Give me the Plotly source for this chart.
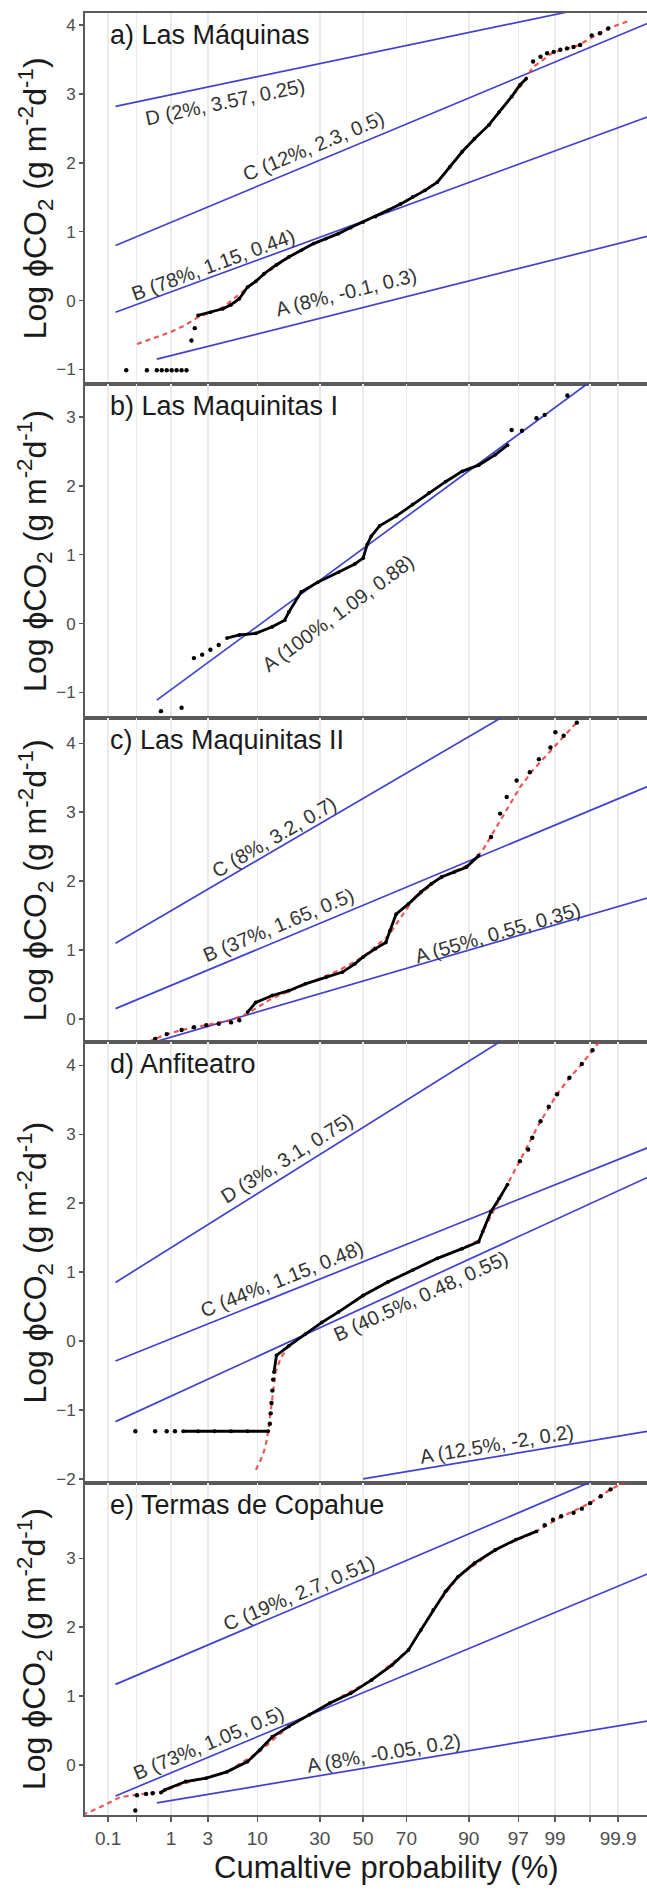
import math
from statistics import NormalDist
import plotly.graph_objects as go

_nd = NormalDist()


def probit(pct):
    """Normal-probability axis transform (percent -> normal score)."""
    return _nd.inv_cdf(pct / 100.0)


# ------------------------------------------------------------------ data
tick_pct = [0.1, 1, 3, 10, 30, 50, 70, 90, 97, 99, 99.9]
tick_text = ["0.1", "1", "3", "10", "30", "50", "70", "90", "97", "99", "99.9"]
minor_tick_pct = [0.3, 99.7]   # unlabelled ticks

x_title = "Cumaltive probability (%)"
y_title = "Log ϕCO<sub>2</sub> (g m<sup>-2</sup>d<sup>-1</sup>)"

# x values below are normal scores (probits)
# ---- a) Las Máquinas
a_title = "a) Las Máquinas"
a_pop_name = ["A", "B", "C", "D"]
a_pop_weight = ["8%", "78%", "12%", "2%"]
a_pop_mean = [-0.1, 1.15, 2.3, 3.57]
a_pop_sd = [0.3, 0.44, 0.5, 0.25]
a_pop_from = [-2.5, -3.0, -3.0, -3.0]
a_dense_x = [-2.0, -1.85, -1.7, -1.6, -1.5, -1.4, -1.3, -1.2, -1.05, -0.9, -0.75, -0.6, -0.45, -0.3,
             -0.15, 0.0, 0.15, 0.3, 0.45, 0.6, 0.75, 0.9, 1.05, 1.2, 1.35, 1.525, 1.65, 1.8, 1.9, 1.975]
a_dense_y = [-0.215, -0.17, -0.118, -0.06, 0.027, 0.197, 0.28, 0.39, 0.52, 0.633, 0.73, 0.827, 0.9, 0.972,
             1.06, 1.14, 1.22, 1.31, 1.40, 1.505, 1.60, 1.72, 1.94, 2.16, 2.35, 2.55, 2.74, 2.96, 3.13, 3.22]
a_tail_x = [-2.87, -2.62, -2.50, -2.44, -2.38, -2.32, -2.26, -2.20, -2.14, -2.08, -2.04,
            2.06, 2.15, 2.23, 2.31, 2.39, 2.47, 2.55, 2.63, 2.77, 2.87, 2.97]
a_tail_y = [-1.01, -1.01, -1.01, -1.01, -1.01, -1.01, -1.01, -1.01, -1.01, -0.58, -0.40,
            3.47, 3.54, 3.59, 3.61, 3.64, 3.66, 3.68, 3.71, 3.85, 3.88, 3.95]
a_fit_x = [-2.74, -2.54, -2.34, -2.16, -2.0, -1.7, -1.4, -1.2, -0.9, -0.6, -0.3, 0.0, 0.3, 0.6, 0.9,
           1.2, 1.5, 1.8, 1.95, 2.05, 2.3, 2.6, 2.97, 3.2]
a_fit_y = [-0.63, -0.55, -0.46, -0.36, -0.24, -0.10, 0.18, 0.38, 0.63, 0.83, 0.97, 1.14, 1.31, 1.5, 1.72,
           2.16, 2.52, 2.96, 3.17, 3.38, 3.60, 3.70, 3.95, 4.05]

# ---- b) Las Maquinitas I
b_title = "b) Las Maquinitas I"
b_pop_name = ["A"]
b_pop_weight = ["100%"]
b_pop_mean = [1.09]
b_pop_sd = [0.88]
b_pop_from = [-2.5]
b_dense_x = [-1.65, -1.5, -1.3, -1.1, -0.95, -0.9, -0.75, -0.55, -0.3, -0.1, 0.0, 0.05, 0.1, 0.2, 0.4,
             0.6, 0.8, 1.0, 1.2, 1.4, 1.6, 1.75]
b_dense_y = [-0.21, -0.165, -0.14, -0.045, 0.05, 0.17, 0.46, 0.60, 0.745, 0.866, 0.95, 1.15, 1.27, 1.42,
             1.56, 1.73, 1.90, 2.06, 2.21, 2.30, 2.45, 2.59]
b_tail_x = [-2.45, -2.2, -2.05, -1.95, -1.85, -1.75, 1.8, 1.925, 2.1, 2.2, 2.475]
b_tail_y = [-1.27, -1.22, -0.50, -0.45, -0.38, -0.31, 2.81, 2.80, 2.98, 3.03, 3.31]
b_fit_x = []
b_fit_y = []

# ---- c) Las Maquinitas II
c_title = "c) Las Maquinitas II"
c_pop_name = ["A", "B", "C"]
c_pop_weight = ["55%", "37%", "8%"]
c_pop_mean = [0.55, 1.65, 3.2]
c_pop_sd = [0.35, 0.5, 0.7]
c_pop_from = [-3.0, -3.0, -3.0]
c_dense_x = [-1.4, -1.3, -1.1, -0.9, -0.7, -0.45, -0.25, -0.1, 0.0, 0.15, 0.275, 0.325, 0.4, 0.55,
             0.7, 0.825, 0.95, 1.1, 1.25, 1.4]
c_dense_y = [0.10, 0.24, 0.34, 0.41, 0.51, 0.605, 0.68, 0.80, 0.90, 1.02, 1.11, 1.28, 1.52, 1.67,
             1.84, 1.96, 2.06, 2.13, 2.20, 2.37]
c_tail_x = [-2.52, -2.38, -2.2, -2.05, -1.9, -1.75, -1.6, -1.5, 1.55, 1.66, 1.74, 1.86, 2.02, 2.13,
            2.27, 2.33, 2.43, 2.59]
c_tail_y = [-0.29, -0.22, -0.16, -0.12, -0.09, -0.07, -0.05, -0.02, 2.64, 2.98, 3.22, 3.46, 3.58, 3.77,
            3.94, 4.16, 4.11, 4.30]
c_fit_x = [-2.6, -2.4, -2.2, -2.0, -1.8, -1.6, -1.4, -1.1, -0.7, -0.3, 0.0, 0.3, 0.6, 0.9, 1.1, 1.3,
           1.45, 1.6, 1.75, 1.9, 2.05, 2.2, 2.4, 2.6]
c_fit_y = [-0.33, -0.23, -0.16, -0.11, -0.07, -0.02, 0.08, 0.30, 0.50, 0.70, 0.90, 1.2, 1.72, 2.02,
           2.14, 2.25, 2.45, 2.75, 3.05, 3.36, 3.6, 3.8, 4.06, 4.32]

# ---- d) Anfiteatro
d_title = "d) Anfiteatro"
d_pop_name = ["A", "B", "C", "D"]
d_pop_weight = ["12.5%", "40.5%", "44%", "3%"]
d_pop_mean = [-2, 0.48, 1.15, 3.1]
d_pop_sd = [0.2, 0.55, 0.48, 0.75]
d_pop_from = [0.0, -3.0, -3.0, -3.0]
d_dense_x = [-2.18, -2.0, -1.8, -1.6, -1.4, -1.15, None,
             -1.08, -1.05, -0.9, -0.7, -0.5, -0.3, 0.0, 0.3, 0.6, 0.9, 1.2, 1.4, 1.45, 1.55, 1.65, 1.75]
d_dense_y = [-1.31, -1.31, -1.31, -1.31, -1.31, -1.31, None,
             -0.45, -0.21, -0.07, 0.10, 0.27, 0.42, 0.66, 0.857, 1.03, 1.20, 1.34, 1.44, 1.59, 1.88, 2.07, 2.27]
d_tail_x = [-2.76, -2.52, -2.38, -2.28, -1.13, -1.12, -1.11, -1.10, -1.09,
            1.9, 2.0, 2.05, 2.15, 2.25, 2.35, 2.5, 2.65, 2.78]
d_tail_y = [-1.31, -1.31, -1.31, -1.31, -1.2, -1.05, -0.9, -0.72, -0.56,
            2.61, 2.78, 2.95, 3.19, 3.40, 3.58, 3.82, 4.02, 4.22]
d_fit_x = [-1.3, -1.25, -1.2, -1.17, -1.15, -1.13, -1.11, -1.09, -1.06, -1.0, -0.9, -0.6, -0.3, 0.0,
           0.3, 0.6, 0.9, 1.2, 1.4, 1.55, 1.75, 1.9, 2.05, 2.15, 2.35, 2.5, 2.65, 2.8, 2.9]
d_fit_y = [-1.87, -1.75, -1.6, -1.45, -1.3, -1.1, -0.9, -0.7, -0.45, -0.25, -0.07, 0.18, 0.42, 0.66,
           0.86, 1.03, 1.2, 1.34, 1.46, 1.82, 2.27, 2.61, 2.95, 3.19, 3.58, 3.82, 4.02, 4.25, 4.4]

# ---- e) Termas de Copahue
e_title = "e) Termas de Copahue"
e_pop_name = ["A", "B", "C"]
e_pop_weight = ["8%", "73%", "19%"]
e_pop_mean = [-0.05, 1.05, 2.7]
e_pop_sd = [0.2, 0.5, 0.51]
e_pop_from = [-2.5, -3.0, -3.0]
e_dense_x = [-2.45, -2.4, -2.15, -1.9, -1.65, -1.4, -1.25, -1.1, -0.9, -0.65, -0.4, -0.15, 0.1, 0.35,
             0.55, 0.7, 0.85, 1.0, 1.15, 1.35, 1.6, 1.85, 2.1]
e_dense_y = [-0.40, -0.36, -0.24, -0.19, -0.10, 0.05, 0.22, 0.41, 0.56, 0.73, 0.90, 1.04, 1.23, 1.45,
             1.67, 1.96, 2.25, 2.52, 2.73, 2.93, 3.12, 3.27, 3.39]
e_tail_x = [-2.76, -2.74, -2.63, -2.55, 2.2, 2.3, 2.4, 2.55, 2.65, 2.75, 2.88, 3.0]
e_tail_y = [-0.66, -0.44, -0.42, -0.41, 3.48, 3.56, 3.61, 3.66, 3.72, 3.80, 3.90, 4.0]
e_fit_x = [-3.4, -3.31, -3.13, -2.95, -2.74, -2.6, -2.45, -2.15, -1.65, -1.25, -0.9, -0.4, 0.1, 0.55,
           0.85, 1.15, 1.6, 2.1, 2.4, 2.75, 3.0, 3.2]
e_fit_y = [-0.72, -0.68, -0.58, -0.47, -0.43, -0.41, -0.39, -0.26, -0.10, 0.2, 0.56, 0.9, 1.23, 1.67,
           2.25, 2.73, 3.12, 3.39, 3.6, 3.8, 4.0, 4.12]

panels = [
    dict(title=a_title, name=a_pop_name, w=a_pop_weight, m=a_pop_mean, s=a_pop_sd, x0=a_pop_from,
         dx=a_dense_x, dy=a_dense_y, tx=a_tail_x, ty=a_tail_y, fx=a_fit_x, fy=a_fit_y),
    dict(title=b_title, name=b_pop_name, w=b_pop_weight, m=b_pop_mean, s=b_pop_sd, x0=b_pop_from,
         dx=b_dense_x, dy=b_dense_y, tx=b_tail_x, ty=b_tail_y, fx=b_fit_x, fy=b_fit_y),
    dict(title=c_title, name=c_pop_name, w=c_pop_weight, m=c_pop_mean, s=c_pop_sd, x0=c_pop_from,
         dx=c_dense_x, dy=c_dense_y, tx=c_tail_x, ty=c_tail_y, fx=c_fit_x, fy=c_fit_y),
    dict(title=d_title, name=d_pop_name, w=d_pop_weight, m=d_pop_mean, s=d_pop_sd, x0=d_pop_from,
         dx=d_dense_x, dy=d_dense_y, tx=d_tail_x, ty=d_tail_y, fx=d_fit_x, fy=d_fit_y),
    dict(title=e_title, name=e_pop_name, w=e_pop_weight, m=e_pop_mean, s=e_pop_sd, x0=e_pop_from,
         dx=e_dense_x, dy=e_dense_y, tx=e_tail_x, ty=e_tail_y, fx=e_fit_x, fy=e_fit_y),
]

# ------------------------------------------------------------------ layout config
W, H = 647, 1891
ML, MR, MT, MB = 85, 0, 13, 76
PW, PH = W - ML - MR, H - MT - MB
X_RANGE = [-3.37, 3.44]
LINE_END = 3.9
Y_RANGES = [[-1.203, 4.174], [-1.374, 3.485], [-0.338, 4.363], [-2.06, 4.336], [-0.726, 4.093]]
Y_TICKS = [list(range(-1, 5)), list(range(-1, 4)), list(range(0, 5)), list(range(-2, 5)), list(range(0, 4))]
# label centres (normal score, log value), same order as populations
LABEL_POS = [
    [(-0.2, 0.12), (-1.825, 0.52), (-0.6, 2.24), (-1.675, 2.88)],
    [(-0.3, 0.15)],
    [(1.625, 1.25), (-1.025, 1.36), (-1.075, 2.64)],
    [(1.625, -1.50), (0.7, 0.66), (-0.985, 0.905), (-0.925, 2.66)],
    [(0.25, 0.17), (-1.875, 0.32), (-0.775, 2.49)],
]
FONT = "Arial, Liberation Sans, Helvetica, sans-serif"
BLUE = "rgba(55,55,205,0.95)"
RED = "rgba(235,55,55,0.85)"
AXC = "#5a5a5a"

spans = [r[1] - r[0] for r in Y_RANGES]
tot = sum(spans)
px_per_unit = PH / tot
px_per_z = PW / (X_RANGE[1] - X_RANGE[0])
tickvals = [probit(p) for p in tick_pct]
minor_vals = [probit(p) for p in minor_tick_pct]

fig = go.Figure()
annotations = []
layout = {}
top = 1.0
for i, p in enumerate(panels):
    k = "" if i == 0 else str(i + 1)
    xa, ya = "x" + k, "y" + k
    bottom = top - spans[i] / tot
    last = i == len(panels) - 1
    layout["xaxis" + k] = dict(
        domain=[0, 1], anchor=ya, range=X_RANGE, tickvals=tickvals, ticktext=tick_text,
        showticklabels=last, ticks="outside" if last else "", ticklen=5, tickwidth=1.5, tickcolor=AXC,
        tickfont=dict(size=19, color="#4d4d4d", family=FONT),
        showgrid=True, gridcolor="#ebebeb", gridwidth=1.5, zeroline=False,
        showline=True, mirror=True, linecolor=AXC, linewidth=2,
        minor=dict(tickvals=minor_vals, ticks="outside" if last else "", ticklen=5, tickwidth=1.5,
                   tickcolor=AXC, showgrid=True, gridcolor="#ebebeb", gridwidth=1.5),
    )
    if i > 0:
        layout["xaxis" + k]["matches"] = "x"
    layout["yaxis" + k] = dict(
        domain=[max(bottom, 0), top], anchor=xa, range=Y_RANGES[i], tickvals=Y_TICKS[i],
        ticks="outside", ticklen=4, tickwidth=1.5, tickcolor=AXC,
        tickfont=dict(size=17, color="#4d4d4d", family=FONT),
        showgrid=False, zeroline=False, showline=True, mirror=False, linecolor=AXC, linewidth=2,
    )

    # population lines
    for j in range(len(p["name"])):
        m, s, z0 = p["m"][j], p["s"][j], p["x0"][j]
        fig.add_trace(go.Scatter(x=[z0, LINE_END], y=[m + s * z0, m + s * LINE_END], mode="lines",
                                 line=dict(color=BLUE, width=1.7), xaxis=xa, yaxis=ya,
                                 showlegend=False, hoverinfo="skip"))
        ang = -math.degrees(math.atan(s * px_per_unit / px_per_z))
        lx, ly = LABEL_POS[i][j]
        annotations.append(dict(
            x=lx, y=ly, xref=xa, yref=ya, showarrow=False, textangle=ang,
            text=f"{p['name'][j]} ({p['w'][j]}, {m:g}, {s:g})",
            font=dict(size=20, color="#333333", family=FONT), xanchor="center", yanchor="middle"))
    # mixture fit
    if p["fx"]:
        fig.add_trace(go.Scatter(x=p["fx"], y=p["fy"], mode="lines",
                                 line=dict(color=RED, width=2.2, dash="5px,4px"),
                                 xaxis=xa, yaxis=ya, showlegend=False, hoverinfo="skip"))
    # observations
    fig.add_trace(go.Scatter(x=p["dx"], y=p["dy"], mode="lines+markers",
                             line=dict(color="black", width=2.8), marker=dict(color="black", size=3.8),
                             xaxis=xa, yaxis=ya, showlegend=False, connectgaps=False))
    fig.add_trace(go.Scatter(x=p["tx"], y=p["ty"], mode="markers",
                             marker=dict(color="black", size=4.4),
                             xaxis=xa, yaxis=ya, showlegend=False))

    # panel title
    annotations.append(dict(
        text=p["title"], xref=xa + " domain", yref=ya + " domain", x=(108 - ML) / PW, y=1,
        xanchor="left", yanchor="top", yshift=-5, showarrow=False,
        font=dict(size=27, color="#1a1a1a", family=FONT)))
    # y title
    annotations.append(dict(
        text=y_title, xref="paper", yref=ya + " domain", x=(35 - ML) / PW, y=0.5,
        xanchor="center", yanchor="middle", textangle=-90, showarrow=False,
        font=dict(size=32, color="#1a1a1a", family=FONT)))
    top = bottom

annotations.append(dict(
    text=x_title, xref="paper", yref="paper", x=(386 - ML) / PW, y=-(1868 - (H - MB)) / PH,
    xanchor="center", yanchor="middle", showarrow=False,
    font=dict(size=31, color="#1a1a1a", family=FONT)))

fig.update_layout(
    width=W, height=H, margin=dict(l=ML, r=MR, t=MT, b=MB, pad=0),
    paper_bgcolor="white", plot_bgcolor="white", showlegend=False,
    annotations=annotations, **layout)

fig.write_html(
    "out.html",
    config={"displayModeBar": False, "staticPlot": True},
    post_script="document.body.style.margin='0px';document.documentElement.style.overflow='hidden';")
